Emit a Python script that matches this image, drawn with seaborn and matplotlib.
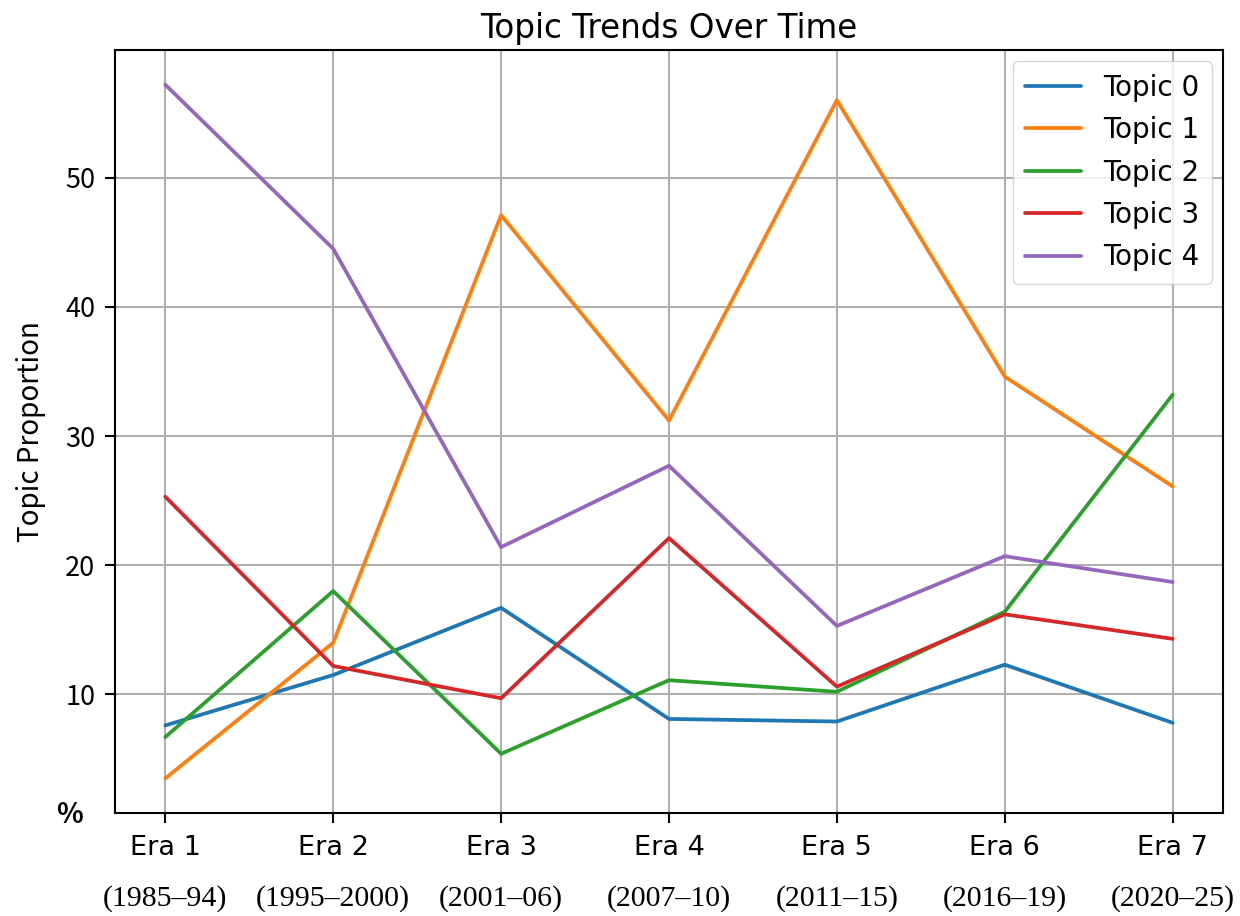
import matplotlib
matplotlib.use("Agg")
import matplotlib.pyplot as plt
import matplotlib.transforms as mtransforms
import seaborn as sns
import pandas as pd

eras = ["Era 1", "Era 2", "Era 3", "Era 4", "Era 5", "Era 6", "Era 7"]
years = ["(1985\u201394)", "(1995\u20132000)", "(2001\u201306)", "(2007\u201310)",
         "(2011\u201315)", "(2016\u201319)", "(2020\u201325)"]
topics = ["Topic 0", "Topic 1", "Topic 2", "Topic 3", "Topic 4"]
topic0 = [7.6, 11.5, 16.7, 8.1, 7.9, 12.3, 7.8]
topic1 = [3.5, 14.0, 47.1, 31.2, 56.0, 34.6, 26.1]
topic2 = [6.7, 18.0, 5.4, 11.1, 10.2, 16.4, 33.2]
topic3 = [25.3, 12.2, 9.7, 22.1, 10.6, 16.2, 14.3]
topic4 = [57.2, 44.5, 21.4, 27.7, 15.3, 20.7, 18.7]
yticks = [10, 20, 30, 40, 50]

series = [topic0, topic1, topic2, topic3, topic4]
rows = []
for name, vals in zip(topics, series):
    for i, v in enumerate(vals):
        rows.append({"era": i, "topic": name, "value": v})
df = pd.DataFrame(rows)

sns.set_style("ticks")
plt.rcParams["font.family"] = ["DejaVu Sans"]
plt.rcParams["text.color"] = "black"
plt.rcParams["axes.labelcolor"] = "black"
plt.rcParams["xtick.color"] = "black"
plt.rcParams["ytick.color"] = "black"

fig = plt.figure(figsize=(12.4, 9.16), dpi=100)
ax = fig.add_axes([0.0927, 0.1124, 0.8936, 0.833])

palette = sns.color_palette("tab10", 5)
sns.lineplot(data=df, x="era", y="value", hue="topic", palette=palette,
             linewidth=2.7, ax=ax, legend=True)

ax.set_xticks(range(len(eras)))
ax.set_xticklabels(eras, fontsize=19.5, color="black")
ax.set_yticks(yticks)
ax.set_yticklabels([str(t) for t in yticks], fontsize=19.5, color="black",
                   family=["Noto Sans CJK JP", "DejaVu Sans"])
ax.tick_params(axis="both", length=7, width=1.5, color="black")
ax.tick_params(axis="y", pad=7)
ax.tick_params(axis="x", pad=9)
ax.set_xlabel("")
ax.set_ylabel("Topic Proportion", fontsize=20, color="black",
              family=["Noto Sans CJK JP", "DejaVu Sans"], labelpad=14)
ax.set_title("Topic Trends Over Time", fontsize=23.5, pad=9, color="black")

ax.grid(True, color="#b0b0b0", linewidth=1.5)
for s in ax.spines.values():
    s.set_visible(True)
    s.set_color("black")
    s.set_linewidth(1.5)

trans = mtransforms.blended_transform_factory(ax.transData, ax.transAxes)
for i, yr in enumerate(years):
    ax.text(i, -0.112, yr, transform=trans, ha="center", va="center",
            fontsize=21.5, family="Liberation Serif", color="black")

ax.text(-0.029, -0.003, "%", transform=ax.transAxes, ha="right", va="center",
        fontsize=20, fontweight="bold", color="black",
        family=["Noto Sans CJK JP", "DejaVu Sans"])

leg = ax.legend(loc="upper right", fontsize=20, frameon=True,
                handlelength=2.0, borderpad=0.45, labelspacing=0.52,
                borderaxespad=0.4)
leg.get_frame().set_edgecolor("#cccccc")
for t in leg.get_texts():
    t.set_color("black")
for h in leg.get_lines():
    h.set_linewidth(2.7)

fig.savefig("out.png", dpi=100)
